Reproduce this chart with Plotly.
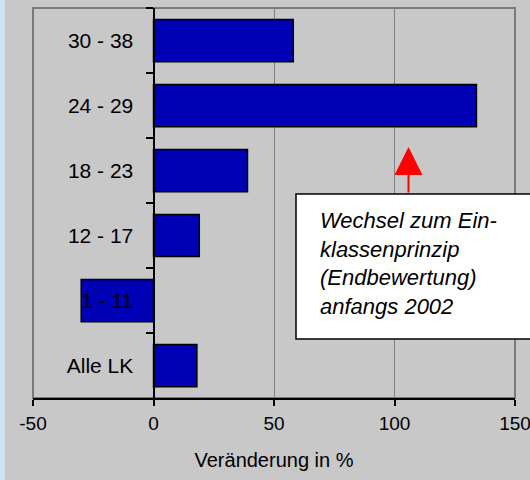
import plotly.graph_objects as go

categories = ["30 - 38", "24 - 29", "18 - 23", "12 - 17", "1 - 11", "Alle LK"]
changes = [58, 134, 39, 19, -30, 18]
x_ticks = [-50, 0, 50, 100, 150]
note_lines = ["Wechsel zum Ein-", "klassenprinzip", "(Endbewertung)", "anfangs 2002"]

FONT = "Liberation Sans, Arial, sans-serif"
W, H = 530, 480
ML, MR, MT, MB = 33, 15, 8, 82
PW, PH = W - ML - MR, H - MT - MB
XMIN, XMAX = -50, 150


def px_x(p):
    return (p - ML) / PW


def px_y(p):
    return (H - MB - p) / PH


fig = go.Figure()
fig.add_trace(go.Bar(
    y=categories, x=changes, orientation="h",
    marker=dict(color="#0000b4", line=dict(color="black", width=1.5)),
    hoverinfo="skip",
))

zero_pos = (0 - XMIN) / (XMAX - XMIN)

fig.update_layout(
    width=W, height=H,
    margin=dict(l=ML, r=MR, t=MT, b=MB, autoexpand=False),
    paper_bgcolor="#c8c8c8", plot_bgcolor="#c8c8c8",
    showlegend=False,
    bargap=0.35,
    font=dict(family=FONT, size=21, color="black"),
    xaxis=dict(
        range=[XMIN, XMAX], tickvals=x_ticks, ticktext=[str(v) for v in x_ticks],
        showgrid=True, gridcolor="#808080", gridwidth=1, zeroline=False,
        showline=True, linecolor="black", linewidth=2,
        ticks="outside", ticklen=6, tickcolor="black", tickwidth=2,
        ticklabelstandoff=1, ticklabeloverflow="allow",
        title=dict(text="Veränderung in %", font=dict(size=20), standoff=20),
        tickfont=dict(size=19), automargin=False,
    ),
    yaxis=dict(
        type="category", autorange="reversed",
        anchor="free", position=zero_pos,
        showline=True, linecolor="black", linewidth=2,
        ticks="outside", tickson="boundaries", ticklen=7, tickcolor="black", tickwidth=2,
        ticklabelstandoff=15,
        showgrid=False, zeroline=False,
        tickfont=dict(size=21), automargin=False,
    ),
)

shapes = [
    # left light-blue strip
    dict(type="rect", xref="paper", yref="paper",
         x0=px_x(0), x1=px_x(5), y0=px_y(H + 2), y1=px_y(-2),
         fillcolor="#d2e2f2", line=dict(width=0), layer="below"),
    # plot border
    dict(type="rect", xref="paper", yref="paper", x0=0, x1=1, y0=0, y1=1,
         line=dict(color="#7a7a7a", width=2), fillcolor="rgba(0,0,0,0)", layer="below"),
    # note box
    dict(type="rect", xref="paper", yref="paper",
         x0=px_x(296), x1=px_x(540), y0=px_y(339), y1=px_y(194),
         fillcolor="white", line=dict(color="black", width=1.5), layer="above"),
]
fig.update_layout(shapes=shapes)

fig.add_annotation(
    xref="paper", yref="paper", x=px_x(318), y=px_y(263),
    xanchor="left", yanchor="middle", align="left", showarrow=False,
    text="<br>".join(f"<i>{t}</i>" for t in note_lines),
    font=dict(family=FONT, size=22, color="black"),
)
fig.add_annotation(
    xref="x", yref="paper", x=105.8, y=px_y(147),
    ax=0, ay=47, axref="pixel", ayref="pixel",
    showarrow=True, arrowhead=2, arrowsize=2.8, arrowwidth=2, arrowcolor="red",
    text="",
)

fig.write_html(
    "out.html",
    config={"displayModeBar": False},
    post_script="document.body.style.margin='0px';document.body.style.overflow='hidden';",
)
